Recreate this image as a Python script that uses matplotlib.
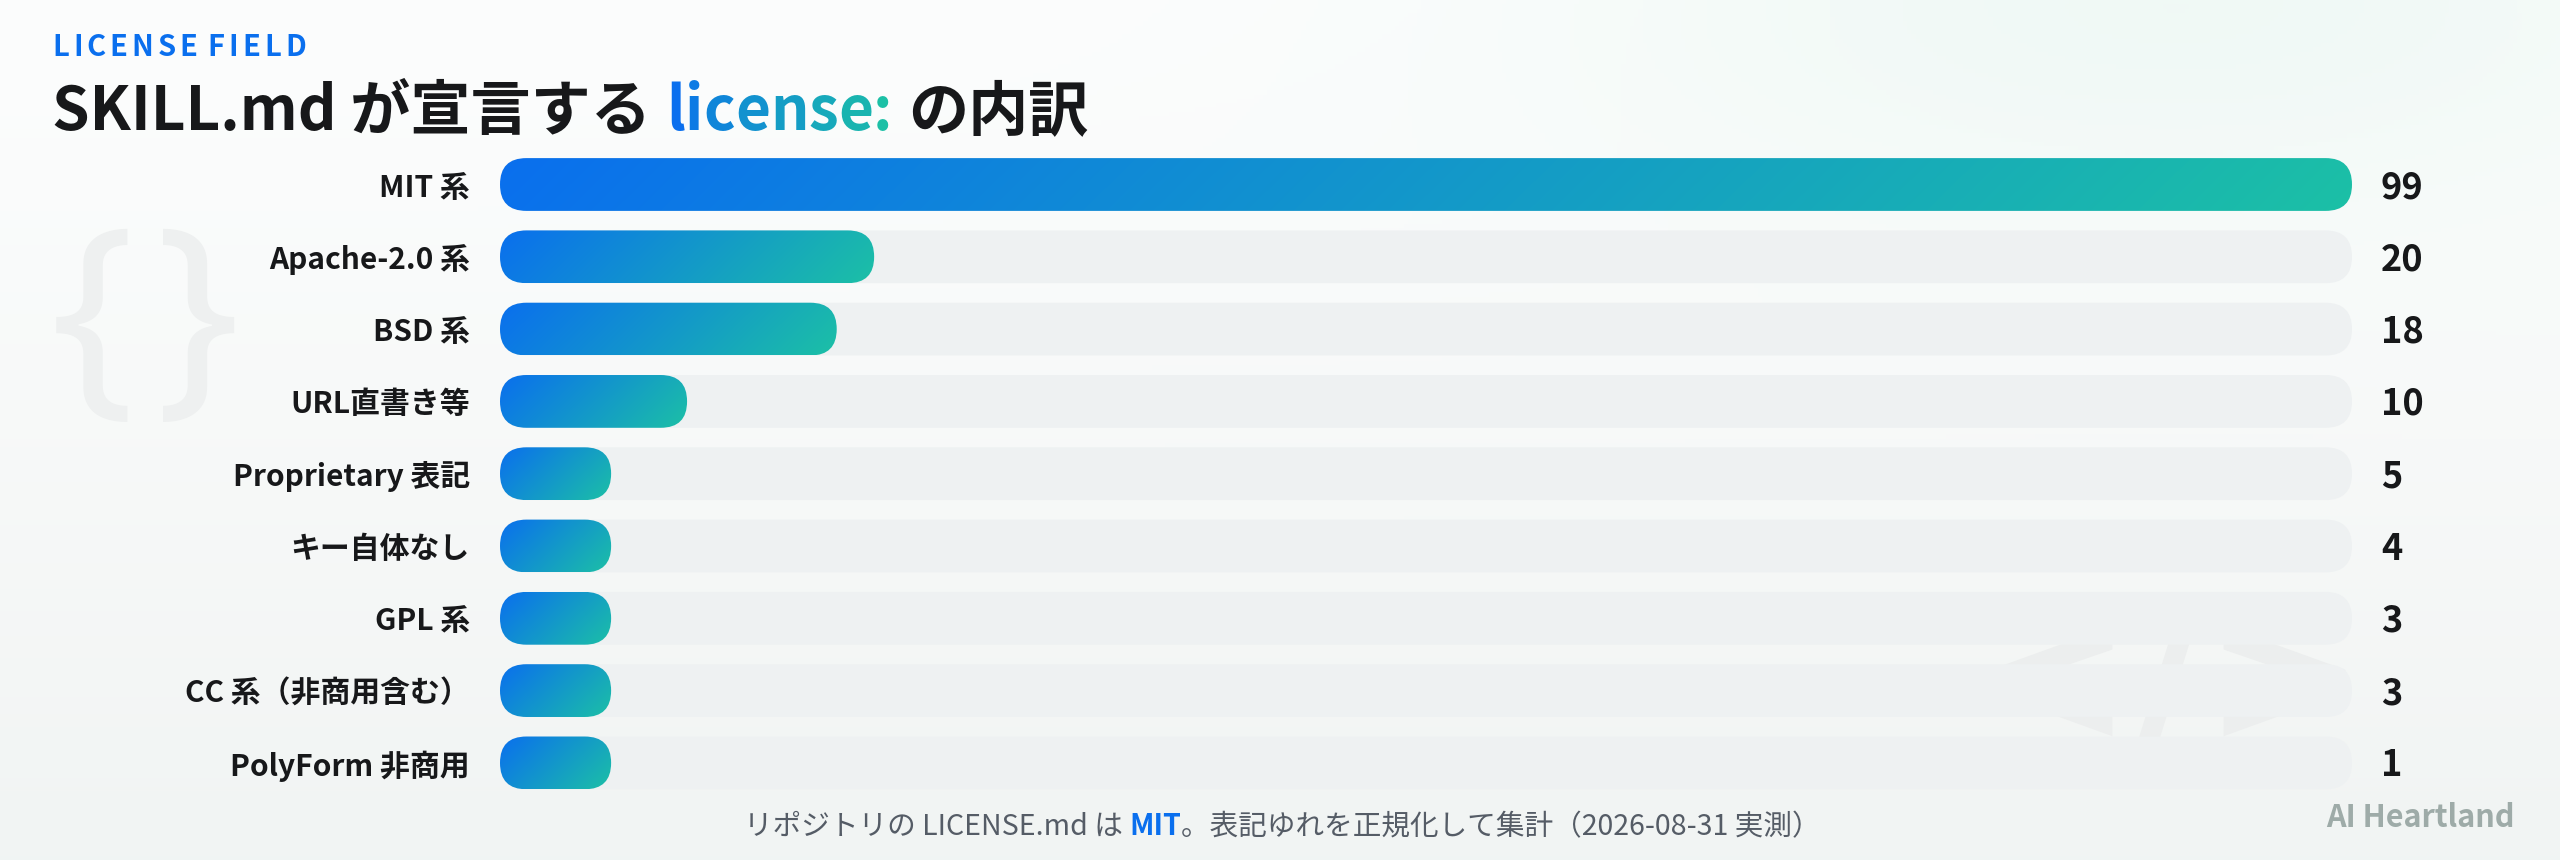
import numpy as np
import matplotlib.pyplot as plt
from matplotlib.patches import FancyBboxPatch
from matplotlib.colors import to_rgb
import matplotlib.transforms as mtransforms

plt.rcParams['font.family'] = ['Noto Sans CJK JP', 'DejaVu Sans']

# data
categories = ['MIT 系', 'Apache-2.0 系', 'BSD 系', 'URL直書き等', 'Proprietary 表記',
              'キー自体なし', 'GPL 系', 'CC 系（非商用含む）', 'PolyForm 非商用']
counts = [99, 20, 18, 10, 5, 4, 3, 3, 1]
min_frac = 0.06  # shortest visible bar, share of the track

kicker = 'LICENSE FIELD'
title_parts = ['SKILL.md が宣言する', 'license:', 'の内訳']
footer_parts = ['リポジトリの LICENSE.md は ', 'MIT', '。表記ゆれを正規化して集計（2026-08-31 実測）']
brand = 'AI Heartland'

BLUE = '#0a6fee'
TEAL = '#1cc0a6'
INK = '#17181a'

W, H = 2560, 860
fig = plt.figure(figsize=(W / 100, H / 100), dpi=100)

# background: soft vertical wash plus a mint glow at the top right
bg = fig.add_axes([0, 0, 1, 1], zorder=-10)
yy, xx = np.mgrid[0:1:200j, 0:1:600j]
top = np.array(to_rgb('#fcfdfd'))
bot = np.array(to_rgb('#f1f4f3'))
img = top + (bot - top) * yy[..., None] ** 1.2
glow = np.exp(-(((xx - 0.85) / 0.25) ** 2 + ((yy - 0.0) / 0.25) ** 2))
mint = np.array(to_rgb('#edf8f4'))
img = img + (mint - img) * glow[..., None] * 0.8
bg.imshow(img, extent=[0, 1, 0, 1], aspect='auto', origin='upper')
bg.set_xlim(0, 1)
bg.set_ylim(0, 1)
bg.axis('off')
for bx, ch in [(92, '{'), (198, '}')]:
    bg.text(bx / W, 1 - 330 / H, ch, fontsize=160, color='#eef0f0',
            ha='center', va='center', family='Noto Sans')
bg.text(2168 / W, 1 - 688 / H, '</>', fontsize=140, color='#eceeee',
        ha='center', va='center', family='DejaVu Sans', fontweight='bold')

# bar axes laid over the track area
track_l, track_r = 500, 2352
row0, step = 184.5, 72.3
n = len(categories)
ax_bottom = H - (row0 + (n - 0.5) * step)
ax = fig.add_axes([track_l / W, ax_bottom / H, (track_r - track_l) / W, n * step / H])
xmax = max(counts)

px_x = (track_r - track_l) / xmax
px_y = step
bar_h = 0.73
r_x = bar_h * px_y / 2 / px_x
m_asp = px_x / px_y
style = f'round,pad=0,rounding_size={r_x}'

c0 = np.array(to_rgb(BLUE))
c1 = np.array(to_rgb(TEAL))
down = mtransforms.ScaledTranslation(0, -3 / 100, fig.dpi_scale_trans)

for i, (lab, v) in enumerate(zip(categories, counts)):
    y0 = i - bar_h / 2
    track = FancyBboxPatch((0, y0), xmax, bar_h, boxstyle=style, mutation_aspect=m_asp,
                           fc='#eef1f2', ec='none', zorder=1)
    ax.add_patch(track)

    w = max(v, min_frac * xmax)
    bar = FancyBboxPatch((0, y0), w, bar_h, boxstyle=style, mutation_aspect=m_asp,
                         fc='none', ec='none', zorder=2)
    ax.add_patch(bar)
    wp, hp = w * px_x, bar_h * px_y
    rr, cc = np.mgrid[0:1:40j, 0:1:300j]
    t = (cc * wp + rr * hp) / (wp + hp)
    grad = c0 + (c1 - c0) * t[..., None]
    im = ax.imshow(grad, extent=[0, w, y0, y0 + bar_h], origin='lower',
                   aspect='auto', interpolation='bilinear', zorder=2)
    im.set_clip_path(bar)

    ax.text(-30 / px_x, i, lab, ha='right', va='center', fontsize=21.5,
            fontweight='bold', color=INK, transform=ax.transData + down)
    ax.text(xmax + 29 / px_x, i, str(v), ha='left', va='center', fontsize=26,
            fontweight='bold', color=INK, transform=ax.transData + down)

ax.set_xlim(0, xmax)
ax.set_ylim(n - 0.5, -0.5)
ax.axis('off')

fig.canvas.draw()
renderer = fig.canvas.get_renderer()


def run_text(x_px, y_frac, pieces, gap=0, **kw):
    # place text pieces one after another, each with its own colour
    x = x_px
    for s, col, extra in pieces:
        opts = dict(kw)
        opts.update(extra)
        if s == ' ':
            x += kw.get('fontsize', 12) * 0.3
            continue
        t = fig.text(x / W, y_frac, s, color=col, ha='left', va='baseline', **opts)
        bb = t.get_window_extent(renderer)
        x = bb.x1 + gap
    return x


# kicker with letter spacing
kick_y = 1 - 56 / H
nat = 0
for ch in kicker:
    if ch == ' ':
        nat += 21 * 0.3
        continue
    tt = fig.text(0, 0, ch, fontsize=21, fontweight='bold')
    nat += tt.get_window_extent(renderer).width
    tt.remove()
gap = (258 - nat) / (len(kicker) - 1)
run_text(52, kick_y, [(ch, BLUE, {}) for ch in kicker], gap=gap,
         fontsize=21, fontweight='bold')

# title with a gradient on "license:"
title_y = 1 - 130 / H
tfs = 43.3
x = run_text(52, title_y, [(title_parts[0], INK, {})], fontsize=tfs, fontweight='bold')
x += 15
word = title_parts[1]
pieces = []
for k, ch in enumerate(word):
    f = k / (len(word) - 1)
    pieces.append((ch, tuple(c0 + (c1 - c0) * f), {}))
x = run_text(x, title_y, pieces, fontsize=tfs, fontweight='bold')
x += 15
run_text(x, title_y, [(title_parts[2], INK, {})], fontsize=tfs, fontweight='bold')

# footer, centred
foot_y = 1 - 835 / H
ffs = 20.6
tmp = [fig.text(0, 0, s, fontsize=ffs, fontweight=wt) for s, wt in
       zip(footer_parts, ['normal', 'bold', 'normal'])]
total = sum(t.get_window_extent(renderer).width for t in tmp)
for t in tmp:
    t.remove()
run_text(1282 - total / 2, foot_y,
         [(footer_parts[0], '#555c66', {}),
          (footer_parts[1], BLUE, {'fontweight': 'bold'}),
          (footer_parts[2], '#555c66', {})], fontsize=ffs)

fig.text(2515 / W, 1 - 818 / H, brand, ha='right', va='center', fontsize=22,
         fontweight='bold', color='#9eaba8')

fig.savefig('out.png', dpi=100)
